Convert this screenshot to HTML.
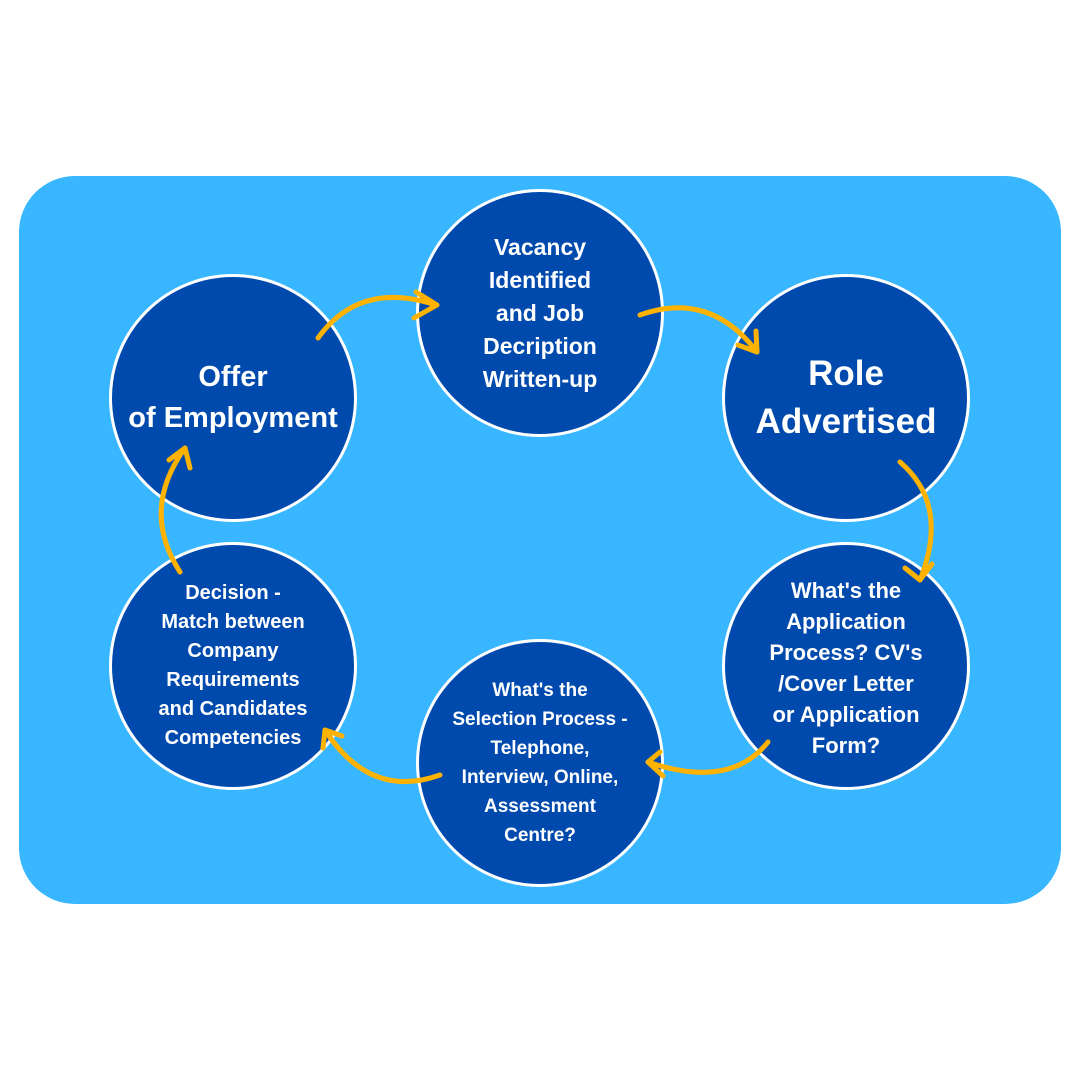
<!DOCTYPE html>
<html><head><meta charset="utf-8"><style>
body{margin:0;width:1080px;height:1080px;background:#fff;position:relative;overflow:hidden;font-family:"Liberation Sans",sans-serif}
.bg{position:absolute;left:19px;top:176px;width:1042px;height:728px;background:#38b6ff;border-radius:56px}
.c{position:absolute;width:242px;height:242px;border-radius:50%;background:#004aad;border:3px solid #fff;color:#fff;font-weight:bold;display:flex;align-items:center;justify-content:center;text-align:center;box-sizing:content-box;white-space:nowrap}
svg{position:absolute;left:0;top:0}
</style></head><body>
<div class="bg"></div>
<div class="c" style="left:416px;top:189px;font-size:23px;line-height:33px">Vacancy<br>Identified<br>and Job<br>Decription<br>Written-up</div>
<div class="c" style="left:722px;top:274px;font-size:35px;line-height:48px">Role<br>Advertised</div>
<div class="c" style="left:722px;top:542px;font-size:22px;line-height:31px;padding-top:4px;height:238px">What's the<br>Application<br>Process? CV's<br>/Cover Letter<br>or Application<br>Form?</div>
<div class="c" style="left:416px;top:639px;font-size:19px;line-height:29px">What's the<br>Selection Process -<br>Telephone,<br>Interview, Online,<br>Assessment<br>Centre?</div>
<div class="c" style="left:109px;top:542px;font-size:20px;line-height:29px">Decision -<br>Match between<br>Company<br>Requirements<br>and Candidates<br>Competencies</div>
<div class="c" style="left:109px;top:274px;font-size:29px;line-height:41px">Offer<br>of Employment</div>
<svg width="1080" height="1080" fill="none" stroke="#ffb300" stroke-width="5" stroke-linecap="round" stroke-linejoin="round">
<path d="M318 338 Q360 280 436 305"/><path d="M416 292 L437 305 L414 318"/>
<path d="M640 315 Q710 290 757 352"/><path d="M738 345 L757 352 L756 331"/>
<path d="M900 462 Q950 505 920 580"/><path d="M905 568 L920 580 L932 564"/>
<path d="M768 742 Q730 790 648 762"/><path d="M660 752 L648 762 L663 776"/>
<path d="M440 775 Q370 800 325 730"/><path d="M323 748 L325 730 L342 736"/>
<path d="M180 572 Q140 510 185 448"/><path d="M169 460 L185 448 L190 468"/>
</svg>
</body></html>
